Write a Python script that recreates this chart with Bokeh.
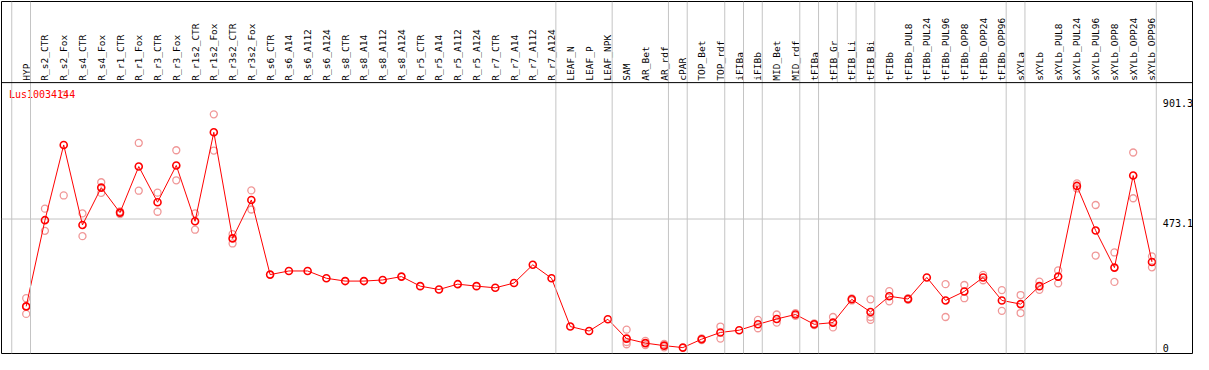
import math
from bokeh.plotting import figure
from bokeh.models import ColumnDataSource, Range1d, Span
from bokeh.core.properties import value
from bokeh.embed import file_html
from bokeh.resources import INLINE

# ---------------- data ----------------
title_text = "Lus10034144"

categories = [
    "HYP", "R_s2_CTR", "R_s2_Fox", "R_s4_CTR", "R_s4_Fox", "R_r1_CTR", "R_r1_Fox",
    "R_r3_CTR", "R_r3_Fox", "R_r1s2_CTR", "R_r1s2_Fox", "R_r3s2_CTR", "R_r3s2_Fox",
    "R_s6_CTR", "R_s6_A14", "R_s6_A112", "R_s6_A124", "R_s8_CTR", "R_s8_A14",
    "R_s8_A112", "R_s8_A124", "R_r5_CTR", "R_r5_A14", "R_r5_A112", "R_r5_A124",
    "R_r7_CTR", "R_r7_A14", "R_r7_A112", "R_r7_A124", "LEAF_N", "LEAF_P", "LEAF_NPK",
    "SAM", "AR_Bet", "AR_rdf", "cPAR", "TOP_Bet", "TOP_rdf", "iFIBa", "iFIBb",
    "MID_Bet", "MID_rdf", "tFIBa", "tFIB_Gr", "tFIB_Li", "tFIB_Bi", "tFIBb",
    "tFIBb_PUL8", "tFIBb_PUL24", "tFIBb_PUL96", "tFIBb_OPP8", "tFIBb_OPP24",
    "tFIBb_OPP96", "sXYLa", "sXYLb", "sXYLb_PUL8", "sXYLb_PUL24", "sXYLb_PUL96",
    "sXYLb_OPP8", "sXYLb_OPP24", "sXYLb_OPP96",
]

means = [
    162, 469, 737, 452, 585, 496, 660, 533, 664, 465, 782, 404, 541,
    275, 288, 288, 262, 252, 252, 256, 268, 234, 222, 241, 234,
    228, 245, 310, 262, 90, 74, 116,
    47, 31, 22, 15, 45, 69, 77, 98,
    117, 133, 98, 104, 187, 142, 198,
    188, 265, 183, 215, 265, 183,
    170, 234, 268, 591, 432, 300, 628, 320,
]

replicates = [
    [191, 160, 135], [510, 431], [915, 557], [493, 412], [604, 566], [500, 491],
    [744, 574], [567, 499], [718, 611], [493, 435], [846, 717], [419, 386], [575, 507],
    [], [], [], [], [], [], [], [], [], [], [], [], [], [], [], [],
    [], [], [],
    [79, 35, 27], [39, 24], [28, 16], [], [48, 42], [90, 47], [], [114, 84],
    [133, 104], [138, 128], [101, 95], [124, 87], [190, 183], [187, 124, 114], [216, 180],
    [191, 185], [], [241, 124], [238, 191], [274, 255], [220, 146],
    [202, 138], [250, 221], [290, 244], [600, 582], [523, 343], [354, 249], [710, 547], [340, 301],
]

tick_values = [901.3, 473.1, 0]
tick_labels = ["901.3", "473.1", "0"]
grid_value = 473.1

# group separators (drawn just right of these category positions)
separators_full = [-1, 0, 28, 31, 34, 35, 37, 38, 39, 41, 42, 45, 52, 53, 60]
separators_labels_only = [43, 44]

# ---------------- layout ----------------
W, H = 1193, 354
X_START, X_END = -1.316, 62.16
Y_BOT, Y_TOP = -6.0, 1248.0
DIVIDER_Y = 959.0      # black line between labels and plot
LABEL_Y = 966.0        # bottom of rotated category labels
SEP_OFF = 0.23
MONO = value("DejaVu Sans Mono")

RED = "#ff0000"
PINK = "#f09898"
GRAY = "#c4c4c4"

p = figure(width=W, height=H, x_range=Range1d(X_START, X_END), y_range=Range1d(Y_BOT, Y_TOP),
           output_backend="svg", toolbar_location=None, x_axis_type=None, y_axis_type=None,
           min_border=1)
p.outline_line_color = "black"
p.outline_line_width = 1
p.background_fill_color = "white"

idx = list(range(len(categories)))

# separators
for s in separators_full:
    p.add_layout(Span(location=s + SEP_OFF, dimension="height", line_color=GRAY, line_width=1))
for s in separators_labels_only:
    p.segment(x0=[s + SEP_OFF], y0=[DIVIDER_Y], x1=[s + SEP_OFF], y1=[Y_TOP],
              line_color=GRAY, line_width=1)

# horizontal gridline
p.segment(x0=[X_START], y0=[grid_value], x1=[separators_full[-1] + SEP_OFF], y1=[grid_value],
          line_color=GRAY, line_width=1)

# divider line
p.add_layout(Span(location=DIVIDER_Y, dimension="width", line_color="black", line_width=1))

# category labels
lab_src = ColumnDataSource(dict(x=idx, text=categories))
p.text(x="x", y=LABEL_Y, text="text", source=lab_src, angle=math.pi / 2,
       text_align="left", text_baseline="middle", text_font=MONO,
       text_font_size="9.5px", text_color="black")

# replicate points
rx, ry = [], []
for i, reps in enumerate(replicates):
    for v in reps:
        rx.append(i)
        ry.append(v)
p.scatter(rx, ry, marker="circle", size=7, fill_color=None, line_color=PINK, line_width=1.3)

# mean line and points
p.line(idx, means, line_color=RED, line_width=1)
p.scatter(idx, means, marker="circle", size=7, fill_color=None, line_color=RED, line_width=1.6)

# title
p.text(x=[-0.92], y=[936], text=[title_text], text_align="left", text_baseline="top",
       text_font=MONO, text_font_size="10px", text_color=RED)

# right value labels
tick_x = separators_full[-1] + 0.58
p.text(x=[tick_x] * 2, y=tick_values[:2], text=tick_labels[:2], text_align="left",
       text_baseline="top", text_font=MONO, text_font_size="10px", text_color="black")
p.text(x=[tick_x], y=tick_values[2:], text=tick_labels[2:], text_align="left",
       text_baseline="bottom", text_font=MONO, text_font_size="10px", text_color="black")

open("out.html", "w").write(file_html(p, INLINE))
